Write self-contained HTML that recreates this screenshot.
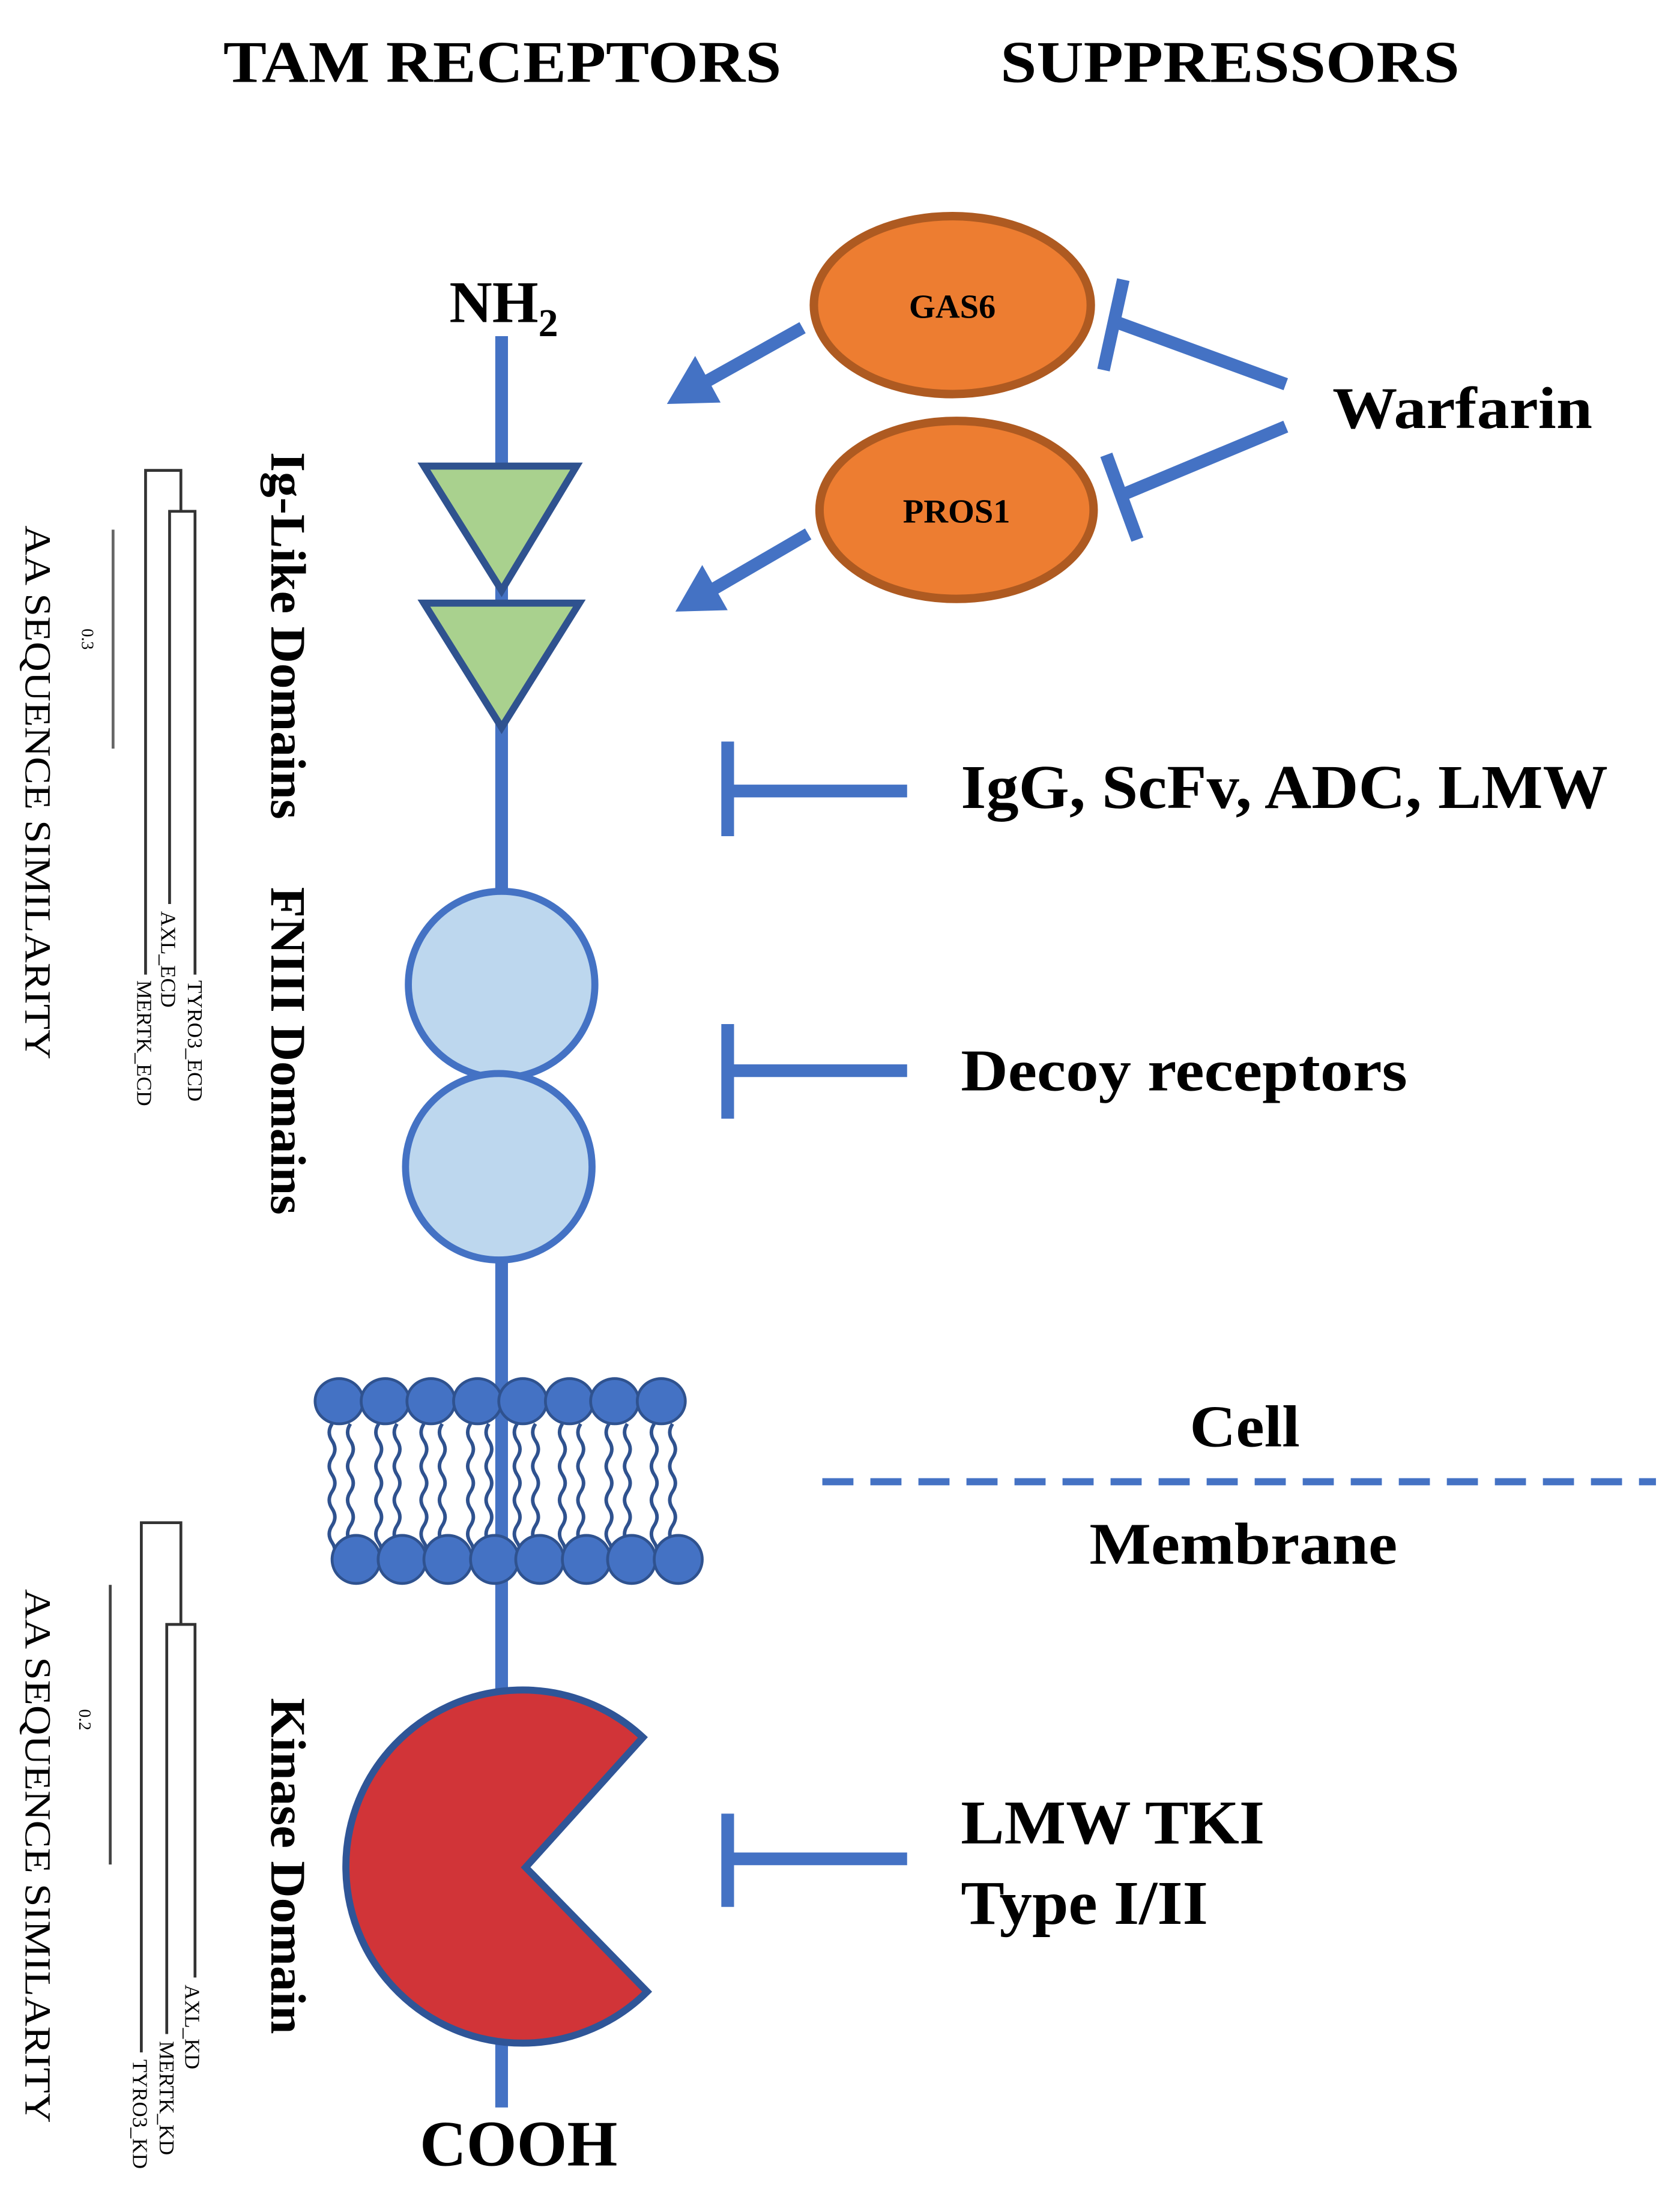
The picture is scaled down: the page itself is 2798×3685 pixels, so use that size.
<!DOCTYPE html>
<html><head><meta charset="utf-8"><style>html,body{margin:0;padding:0;background:#fff}svg{display:block}</style></head><body>
<svg xmlns="http://www.w3.org/2000/svg" width="2798" height="3685" viewBox="0 0 1189 1566" font-family="Liberation Serif, serif">
<defs>
<path id="w" d="M0 0 q-4 6 0 12 t0 12 t0 12 t0 12 t0 12 t0 12 t0 12 t0 12" fill="none" stroke="#2F528F" stroke-width="2.5"/>
</defs>
<rect width="1189" height="1566" fill="#fff"/>
<g font-weight="bold" fill="#000" lengthAdjust="spacingAndGlyphs">
<text x="158" y="58" font-size="42" textLength="395" lengthAdjust="spacingAndGlyphs">TAM RECEPTORS</text>
<text x="708" y="58" font-size="42" textLength="325" lengthAdjust="spacingAndGlyphs">SUPPRESSORS</text>
<text x="318" y="228" font-size="42">NH<tspan font-size="28" dy="10">2</tspan></text>
<text x="297" y="1533" font-size="46" textLength="140" lengthAdjust="spacingAndGlyphs">COOH</text>
<text x="943" y="303" font-size="42" textLength="184" lengthAdjust="spacingAndGlyphs">Warfarin</text>
<text x="680" y="572" font-size="44" textLength="458" lengthAdjust="spacingAndGlyphs">IgG, ScFv, ADC, LMW</text>
<text x="680" y="772" font-size="42" textLength="316" lengthAdjust="spacingAndGlyphs">Decoy receptors</text>
<text x="680" y="1305" font-size="44" textLength="215" lengthAdjust="spacingAndGlyphs">LMW TKI</text>
<text x="680" y="1362" font-size="44" textLength="175" lengthAdjust="spacingAndGlyphs">Type I/II</text>
<text x="842" y="1024" font-size="42" textLength="78" lengthAdjust="spacingAndGlyphs">Cell</text>
<text x="771" y="1107" font-size="42" textLength="218" lengthAdjust="spacingAndGlyphs">Membrane</text>
<text transform="translate(192,320) rotate(90)" font-size="35" textLength="260" lengthAdjust="spacingAndGlyphs">Ig-Like Domains</text>
<text transform="translate(192,628) rotate(90)" font-size="35" textLength="232" lengthAdjust="spacingAndGlyphs">FNIII Domains</text>
<text transform="translate(192,1202) rotate(90)" font-size="35" textLength="238" lengthAdjust="spacingAndGlyphs">Kinase Domain</text>
</g>
<g fill="#000" font-weight="normal">
<text transform="translate(18,372) rotate(90)" font-size="26" textLength="378" lengthAdjust="spacingAndGlyphs">AA SEQUENCE SIMILARITY</text>
<text transform="translate(18,1125) rotate(90)" font-size="26" textLength="378" lengthAdjust="spacingAndGlyphs">AA SEQUENCE SIMILARITY</text>
<text transform="translate(58,445) rotate(90)" font-size="12">0.3</text>
<text transform="translate(56,1210) rotate(90)" font-size="12">0.2</text>
<text transform="translate(133,694) rotate(90)" font-size="15">TYRO3_ECD</text>
<text transform="translate(114,645) rotate(90)" font-size="15">AXL_ECD</text>
<text transform="translate(97,694) rotate(90)" font-size="15">MERTK_ECD</text>
<text transform="translate(131,1405) rotate(90)" font-size="15">AXL_KD</text>
<text transform="translate(113,1445) rotate(90)" font-size="15">MERTK_KD</text>
<text transform="translate(94,1458) rotate(90)" font-size="15">TYRO3_KD</text>
</g>
<g stroke="#333" stroke-width="2" fill="none">
<line x1="80" y1="375" x2="80" y2="530" stroke="#666"/>
<path d="M103 690 V333 H128 V362"/>
<path d="M120 640 V362 H138 V690"/>
<line x1="78" y1="1122" x2="78" y2="1320" stroke="#444"/>
<path d="M100 1453 V1078 H128 V1150"/>
<path d="M118 1440 V1150 H138 V1400"/>
</g>
<line x1="355" y1="238" x2="355" y2="1492" stroke="#4472C4" stroke-width="9"/>
<polygon points="300,330 408,330 355,418" fill="#A9D18E" stroke="#2F528F" stroke-width="5"/>
<polygon points="300,427 410,427 355,515" fill="#A9D18E" stroke="#2F528F" stroke-width="5"/>
<circle cx="355" cy="697" r="66" fill="#BDD7EE" stroke="#4472C4" stroke-width="5"/>
<circle cx="353" cy="826" r="66" fill="#BDD7EE" stroke="#4472C4" stroke-width="5"/>
<g>
<use href="#w" x="235" y="1008"/><use href="#w" x="248" y="1008"/>
<use href="#w" x="268" y="1008"/><use href="#w" x="281" y="1008"/>
<use href="#w" x="300" y="1008"/><use href="#w" x="313" y="1008"/>
<use href="#w" x="333" y="1008"/><use href="#w" x="346" y="1008"/>
<use href="#w" x="366" y="1008"/><use href="#w" x="379" y="1008"/>
<use href="#w" x="398" y="1008"/><use href="#w" x="411" y="1008"/>
<use href="#w" x="431" y="1008"/><use href="#w" x="444" y="1008"/>
<use href="#w" x="463" y="1008"/><use href="#w" x="476" y="1008"/>
</g>
<g fill="#4472C4" stroke="#2F528F" stroke-width="2">
<ellipse cx="240" cy="992" rx="17" ry="16"/><ellipse cx="272.6" cy="992" rx="17" ry="16"/><ellipse cx="305" cy="992" rx="17" ry="16"/><ellipse cx="338" cy="992" rx="17" ry="16"/><ellipse cx="370" cy="992" rx="17" ry="16"/><ellipse cx="403" cy="992" rx="17" ry="16"/><ellipse cx="435" cy="992" rx="17" ry="16"/><ellipse cx="468" cy="992" rx="17" ry="16"/>
<ellipse cx="252" cy="1104" rx="17" ry="17"/><ellipse cx="284.6" cy="1104" rx="17" ry="17"/><ellipse cx="317" cy="1104" rx="17" ry="17"/><ellipse cx="350" cy="1104" rx="17" ry="17"/><ellipse cx="382" cy="1104" rx="17" ry="17"/><ellipse cx="415" cy="1104" rx="17" ry="17"/><ellipse cx="447" cy="1104" rx="17" ry="17"/><ellipse cx="480" cy="1104" rx="17" ry="17"/>
</g>
<path d="M455 1230 A125 125 0 1 0 458 1410 L372 1322 Z" fill="#D13438" stroke="#2F5597" stroke-width="5"/>
<ellipse cx="674" cy="216" rx="98" ry="63" fill="#ED7D31" stroke="#AE5A21" stroke-width="6"/>
<ellipse cx="677" cy="361" rx="97" ry="63" fill="#ED7D31" stroke="#AE5A21" stroke-width="6"/>
<g font-weight="bold" font-size="24" text-anchor="middle" fill="#000">
<text x="674" y="225">GAS6</text>
<text x="677" y="370">PROS1</text>
</g>
<g stroke="#4472C4" stroke-width="9" fill="#4472C4">
<line x1="568" y1="232" x2="500" y2="270"/>
<polygon points="472,286 492,252 510,285" stroke="none"/>
<line x1="572" y1="378" x2="505" y2="417"/>
<polygon points="478,433 497,400 515,432" stroke="none"/>
<line x1="910" y1="272" x2="790" y2="228"/>
<line x1="795" y1="198" x2="781" y2="262"/>
<line x1="910" y1="302" x2="795" y2="350"/>
<line x1="783" y1="322" x2="805" y2="382"/>
<line x1="515" y1="560" x2="642" y2="560"/>
<line x1="515" y1="525" x2="515" y2="592"/>
<line x1="515" y1="758" x2="642" y2="758"/>
<line x1="515" y1="725" x2="515" y2="792"/>
<line x1="515" y1="1316" x2="642" y2="1316"/>
<line x1="515" y1="1284" x2="515" y2="1350"/>
<line x1="582" y1="1049" x2="1172" y2="1049" stroke-width="5" stroke-dasharray="22 12"/>
</g>
</svg>
</body></html>
